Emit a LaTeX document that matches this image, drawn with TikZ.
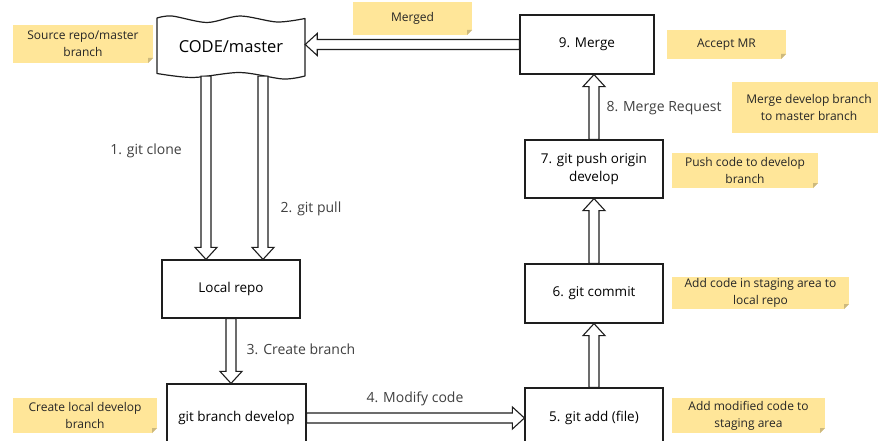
\documentclass[tikz,border=0pt]{standalone}
\usepackage{fontspec}
\setmainfont{Open Sans}
\usetikzlibrary{calc}
\definecolor{note}{RGB}{255,230,153}
\definecolor{fold}{RGB}{205,185,125}
\definecolor{lbl}{RGB}{64,64,64}
\definecolor{ln}{RGB}{30,30,30}
\tikzset{
  box/.style={draw=ln, line width=1.2pt, fill=white, inner sep=2pt, align=center, font=\fontsize{13.5}{18}\selectfont},
  note/.style={fill=note, inner sep=1pt, align=center, text=black!85, font=\fontsize{12}{17}\selectfont,
    path picture={
      \fill[white] ([xshift=-5pt]path picture bounding box.south east) -- (path picture bounding box.south east) -- ([yshift=5pt]path picture bounding box.south east) -- cycle;
      \fill[fold] ([xshift=-5pt]path picture bounding box.south east) -- ([yshift=5pt]path picture bounding box.south east) -- ([xshift=-5pt,yshift=5pt]path picture bounding box.south east) -- cycle;
    }},
  lab/.style={text=lbl, font=\fontsize{14}{16}\selectfont},
  fat/.style={draw=ln, line width=1.1pt, fill=white, line join=miter, to path={
    ($(\tikztostart)!5pt!90:(\tikztotarget)$) --
    ($(\tikztotarget)!12pt!(\tikztostart)!5pt!-90:(\tikztostart)$) --
    ($(\tikztotarget)!12pt!(\tikztostart)!11pt!-90:(\tikztostart)$) --
    (\tikztotarget) --
    ($(\tikztotarget)!12pt!(\tikztostart)!11pt!90:(\tikztostart)$) --
    ($(\tikztotarget)!12pt!(\tikztostart)!5pt!90:(\tikztostart)$) --
    ($(\tikztostart)!5pt!-90:(\tikztotarget)$) -- cycle}}
}
\begin{document}
\begin{tikzpicture}[x=1pt, y=-1pt]
\useasboundingbox (0,0) rectangle (878,441);
\fill[white] (0,0) rectangle (878,441);
\clip (0,0) rectangle (878,441);

% wavy source box
\draw[ln, line width=1.2pt, fill=white, line join=round]
  plot[smooth] coordinates {(157,18) (172,16) (207,22.5) (240,16) (277,22) (305,18.5)}
  -- (305,76)
  -- plot[smooth] coordinates {(305,76) (283,79) (240,72.5) (193,77.5) (157,73.5)}
  -- cycle;
\node[minimum width=148pt, minimum height=58pt, inner sep=0pt, font=\fontsize{16.5}{20}\selectfont] (code) at (231,47) {CODE/master};

% boxes
\node[box, minimum width=134pt, minimum height=59pt] (merge) at (587,44.5) {9. Merge};
\node[box, minimum width=138pt, minimum height=58pt] (push) at (594,169) {7. git push origin\\develop};
\node[box, minimum width=138pt, minimum height=59pt] (commit) at (594,293.5) {6. git commit};
\node[box, minimum width=138pt, minimum height=60pt] (add) at (594,418) {5. git add (file)};
\node[box, minimum width=138pt, minimum height=58pt] (local) at (231,289) {Local repo};
\node[box, minimum width=139pt, minimum height=68pt] (dev) at (236.5,418) {git branch develop};

% notes
\node[note, minimum width=140pt, minimum height=38pt] (n1) at (83,44) {Source repo/master\\branch};
\node[note, minimum width=119pt, minimum height=33pt] (n2) at (412.5,18.5) {Merged};
\node[note, minimum width=119pt, minimum height=29pt] (n3) at (726.5,44.5) {Accept MR};
\node[note, minimum width=154pt, minimum height=51pt] (n4) at (809,107.5) {Merge develop branch\\to master branch};
\node[note, minimum width=146pt, minimum height=35pt] (n5) at (745,170.5) {Push code to develop\\branch};
\node[note, minimum width=177pt, minimum height=32pt] (n6) at (760.5,293) {Add code in staging area to\\local repo};
\node[note, minimum width=153pt, minimum height=35pt] (n7) at (748.5,415.5) {Add modified code to\\staging area};
\node[note, minimum width=144pt, minimum height=35pt] (n8) at (85,415.5) {Create local develop\\branch};

% arrows
\path[fat] ([xshift=-25pt]code.south) to ([xshift=-25pt]local.north);
\path[fat] ([xshift=32pt]code.south) to ([xshift=32pt]local.north);
\path[fat] (local.south) to (local.south |- dev.north);
\path[fat] (dev.east) to (dev.east -| add.west);
\path[fat] (add.north) to (commit.south);
\path[fat] (commit.north) to (push.south);
\path[fat] (push.north) to (push.north |- merge.south);
\path[fat] (merge.west) to (merge.west -| code.east);

% labels
\node[lab] (l1) at (146,151) {1. git clone};
\node[lab] (l2) at (311,209) {2. git pull};
\node[lab] (l3) at (301,349) {3. Create branch};
\node[lab] (l4) at (415,399) {4. Modify code};
\node[lab] (l8) at (664,108) {8. Merge Request};
\end{tikzpicture}
\end{document}
